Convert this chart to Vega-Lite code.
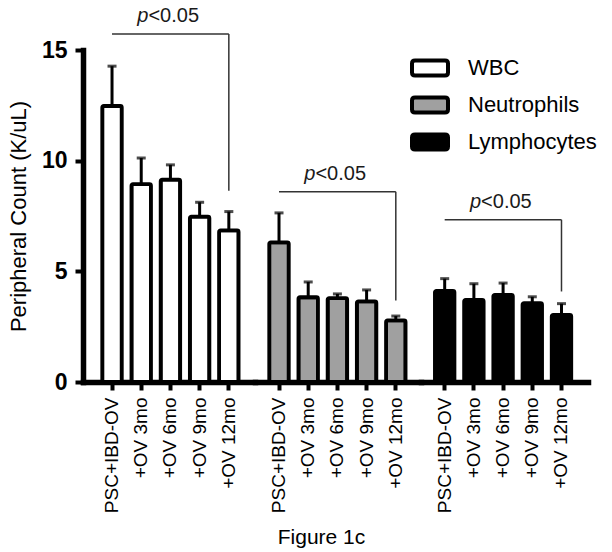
{
  "$schema": "https://vega.github.io/schema/vega-lite/v6.json",
  "background": "white",
  "padding": {"left": 7, "top": 6, "right": 5, "bottom": 5},
  "bounds": "flush",
  "spacing": 0,
  "datasets": {
    "bars": [
      {"type": "WBC", "time": "PSC+IBD-OV", "mean": 12.47, "upper": 14.27},
      {"type": "WBC", "time": "+OV 3mo", "mean": 8.94, "upper": 10.12},
      {"type": "WBC", "time": "+OV 6mo", "mean": 9.14, "upper": 9.81},
      {"type": "WBC", "time": "+OV 9mo", "mean": 7.47, "upper": 8.12},
      {"type": "WBC", "time": "+OV 12mo", "mean": 6.85, "upper": 7.7},
      {"type": "Neutrophils", "time": "PSC+IBD-OV", "mean": 6.31, "upper": 7.64},
      {"type": "Neutrophils", "time": "+OV 3mo", "mean": 3.83, "upper": 4.52},
      {"type": "Neutrophils", "time": "+OV 6mo", "mean": 3.79, "upper": 3.98},
      {"type": "Neutrophils", "time": "+OV 9mo", "mean": 3.64, "upper": 4.16},
      {"type": "Neutrophils", "time": "+OV 12mo", "mean": 2.78, "upper": 2.98},
      {"type": "Lymphocytes", "time": "PSC+IBD-OV", "mean": 4.12, "upper": 4.67},
      {"type": "Lymphocytes", "time": "+OV 3mo", "mean": 3.71, "upper": 4.44},
      {"type": "Lymphocytes", "time": "+OV 6mo", "mean": 3.94, "upper": 4.47},
      {"type": "Lymphocytes", "time": "+OV 9mo", "mean": 3.56, "upper": 3.85},
      {"type": "Lymphocytes", "time": "+OV 12mo", "mean": 3.03, "upper": 3.54}
    ],
    "brackets": [
      {"type": "WBC", "from": "PSC+IBD-OV", "to": "+OV 12mo", "mid": "+OV 6mo", "level": 15.72, "drop": 8.64, "pfx": "p", "rest": "<0.05"},
      {"type": "Neutrophils", "from": "PSC+IBD-OV", "to": "+OV 12mo", "mid": "+OV 6mo", "level": 8.6, "drop": 3.68, "pfx": "p", "rest": "<0.05"},
      {"type": "Lymphocytes", "from": "PSC+IBD-OV", "to": "+OV 12mo", "mid": "+OV 6mo", "level": 7.33, "drop": 4.09, "pfx": "p", "rest": "<0.05"}
    ]
  },
  "resolve": {"scale": {"x": "independent", "y": "independent"}, "axis": {"x": "independent", "y": "independent"}},
  "hconcat": [
    {
      "width": 172, "height": 332,
      "layer": [
        {"data": {"name": "bars"}, "transform": [{"filter": "datum.type === 'WBC'"}],
         "mark": {"type": "rule", "color": "black", "strokeWidth": 3},
         "encoding": {
           "x": {"field": "time", "type": "nominal", "title": null, "scale": {"domain": ["PSC+IBD-OV", "+OV 3mo", "+OV 6mo", "+OV 9mo", "+OV 12mo"], "paddingInner": 0.332, "paddingOuter": 0.611, "align": 0.54}, "axis": {"title": null}},
           "y": {"field": "mean", "type": "quantitative", "scale": {"domain": [0, 15], "nice": false}, "axis": {"values": [0, 5, 10, 15], "title": "Peripheral Count (K/uL)"}},
           "y2": {"field": "upper"}
         }},
        {"data": {"name": "bars"}, "transform": [{"filter": "datum.type === 'WBC'"}],
         "mark": {"type": "tick", "color": "black", "thickness": 3, "size": 9},
         "encoding": {
           "x": {"field": "time", "type": "nominal", "title": null, "scale": {"domain": ["PSC+IBD-OV", "+OV 3mo", "+OV 6mo", "+OV 9mo", "+OV 12mo"], "paddingInner": 0.332, "paddingOuter": 0.611, "align": 0.54}, "axis": {"title": null}},
           "y": {"field": "upper", "type": "quantitative", "scale": {"domain": [0, 15], "nice": false}, "axis": {"values": [0, 5, 10, 15], "title": "Peripheral Count (K/uL)"}}
         }},
        {"data": {"name": "bars"}, "transform": [{"filter": "datum.type === 'WBC'"}],
         "mark": {"type": "bar", "stroke": "black", "strokeWidth": 3.8, "cornerRadius": 1.5, "strokeJoin": "round"},
         "encoding": {
           "x": {"field": "time", "type": "nominal", "title": null, "scale": {"domain": ["PSC+IBD-OV", "+OV 3mo", "+OV 6mo", "+OV 9mo", "+OV 12mo"], "paddingInner": 0.332, "paddingOuter": 0.611, "align": 0.54}, "axis": {"title": null}},
           "y": {"field": "mean", "type": "quantitative", "scale": {"domain": [0, 15], "nice": false}, "axis": {"values": [0, 5, 10, 15], "title": "Peripheral Count (K/uL)"}},
           "fill": {"field": "type", "type": "nominal", "scale": {"domain": ["WBC", "Neutrophils", "Lymphocytes"], "range": ["#ffffff", "#a0a0a0", "#000000"]}, "legend": {"title": null}}
         }},
        {"data": {"name": "brackets"}, "transform": [{"filter": "datum.type === 'WBC'"}],
         "mark": {"type": "rule", "color": "#333333", "strokeWidth": 1.5},
         "encoding": {
           "x": {"field": "from", "type": "nominal", "title": null, "scale": {"domain": ["PSC+IBD-OV", "+OV 3mo", "+OV 6mo", "+OV 9mo", "+OV 12mo"], "paddingInner": 0.332, "paddingOuter": 0.611, "align": 0.54}, "axis": {"title": null}},
           "x2": {"field": "to"},
           "y": {"field": "level", "type": "quantitative", "scale": {"domain": [0, 15], "nice": false}, "axis": {"values": [0, 5, 10, 15], "title": "Peripheral Count (K/uL)"}}
         }},
        {"data": {"name": "brackets"}, "transform": [{"filter": "datum.type === 'WBC'"}],
         "mark": {"type": "rule", "color": "#333333", "strokeWidth": 1.5},
         "encoding": {
           "x": {"field": "to", "type": "nominal", "title": null, "scale": {"domain": ["PSC+IBD-OV", "+OV 3mo", "+OV 6mo", "+OV 9mo", "+OV 12mo"], "paddingInner": 0.332, "paddingOuter": 0.611, "align": 0.54}, "axis": {"title": null}},
           "y": {"field": "level", "type": "quantitative", "scale": {"domain": [0, 15], "nice": false}, "axis": {"values": [0, 5, 10, 15], "title": "Peripheral Count (K/uL)"}},
           "y2": {"field": "drop"}
         }},
        {"data": {"name": "brackets"}, "transform": [{"filter": "datum.type === 'WBC'"}],
         "mark": {"type": "text", "align": "right", "baseline": "alphabetic", "dx": -22, "dy": -12, "fontSize": 20, "fontStyle": "italic", "color": "#1a1a1a"},
         "encoding": {
           "x": {"field": "mid", "type": "nominal", "title": null, "scale": {"domain": ["PSC+IBD-OV", "+OV 3mo", "+OV 6mo", "+OV 9mo", "+OV 12mo"], "paddingInner": 0.332, "paddingOuter": 0.611, "align": 0.54}, "axis": {"title": null}},
           "y": {"field": "level", "type": "quantitative", "scale": {"domain": [0, 15], "nice": false}, "axis": {"values": [0, 5, 10, 15], "title": "Peripheral Count (K/uL)"}},
           "text": {"field": "pfx"}
         }},
        {"data": {"name": "brackets"}, "transform": [{"filter": "datum.type === 'WBC'"}],
         "mark": {"type": "text", "align": "left", "baseline": "alphabetic", "dx": -22, "dy": -12, "fontSize": 20, "color": "#1a1a1a"},
         "encoding": {
           "x": {"field": "mid", "type": "nominal", "title": null, "scale": {"domain": ["PSC+IBD-OV", "+OV 3mo", "+OV 6mo", "+OV 9mo", "+OV 12mo"], "paddingInner": 0.332, "paddingOuter": 0.611, "align": 0.54}, "axis": {"title": null}},
           "y": {"field": "level", "type": "quantitative", "scale": {"domain": [0, 15], "nice": false}, "axis": {"values": [0, 5, 10, 15], "title": "Peripheral Count (K/uL)"}},
           "text": {"field": "rest"}
         }}
      ]
    },
    {
      "width": 166, "height": 332,
      "layer": [
        {"data": {"name": "bars"}, "transform": [{"filter": "datum.type === 'Neutrophils'"}],
         "mark": {"type": "rule", "color": "black", "strokeWidth": 3},
         "encoding": {
           "x": {"field": "time", "type": "nominal", "title": null, "scale": {"domain": ["PSC+IBD-OV", "+OV 3mo", "+OV 6mo", "+OV 9mo", "+OV 12mo"], "paddingInner": 0.332, "paddingOuter": 0.5085, "align": 0.48}, "axis": {"title": "Figure 1c", "titleX": 66}},
           "y": {"field": "mean", "type": "quantitative", "scale": {"domain": [0, 15], "nice": false}, "axis": null},
           "y2": {"field": "upper"}
         }},
        {"data": {"name": "bars"}, "transform": [{"filter": "datum.type === 'Neutrophils'"}],
         "mark": {"type": "tick", "color": "black", "thickness": 3, "size": 9},
         "encoding": {
           "x": {"field": "time", "type": "nominal", "title": null, "scale": {"domain": ["PSC+IBD-OV", "+OV 3mo", "+OV 6mo", "+OV 9mo", "+OV 12mo"], "paddingInner": 0.332, "paddingOuter": 0.5085, "align": 0.48}, "axis": {"title": "Figure 1c", "titleX": 66}},
           "y": {"field": "upper", "type": "quantitative", "scale": {"domain": [0, 15], "nice": false}, "axis": null}
         }},
        {"data": {"name": "bars"}, "transform": [{"filter": "datum.type === 'Neutrophils'"}],
         "mark": {"type": "bar", "stroke": "black", "strokeWidth": 3.8, "cornerRadius": 1.5, "strokeJoin": "round"},
         "encoding": {
           "x": {"field": "time", "type": "nominal", "title": null, "scale": {"domain": ["PSC+IBD-OV", "+OV 3mo", "+OV 6mo", "+OV 9mo", "+OV 12mo"], "paddingInner": 0.332, "paddingOuter": 0.5085, "align": 0.48}, "axis": {"title": "Figure 1c", "titleX": 66}},
           "y": {"field": "mean", "type": "quantitative", "scale": {"domain": [0, 15], "nice": false}, "axis": null},
           "fill": {"field": "type", "type": "nominal", "scale": {"domain": ["WBC", "Neutrophils", "Lymphocytes"], "range": ["#ffffff", "#a0a0a0", "#000000"]}, "legend": {"title": null}}
         }},
        {"data": {"name": "brackets"}, "transform": [{"filter": "datum.type === 'Neutrophils'"}],
         "mark": {"type": "rule", "color": "#333333", "strokeWidth": 1.5},
         "encoding": {
           "x": {"field": "from", "type": "nominal", "title": null, "scale": {"domain": ["PSC+IBD-OV", "+OV 3mo", "+OV 6mo", "+OV 9mo", "+OV 12mo"], "paddingInner": 0.332, "paddingOuter": 0.5085, "align": 0.48}, "axis": {"title": "Figure 1c", "titleX": 66}},
           "x2": {"field": "to"},
           "y": {"field": "level", "type": "quantitative", "scale": {"domain": [0, 15], "nice": false}, "axis": null}
         }},
        {"data": {"name": "brackets"}, "transform": [{"filter": "datum.type === 'Neutrophils'"}],
         "mark": {"type": "rule", "color": "#333333", "strokeWidth": 1.5},
         "encoding": {
           "x": {"field": "to", "type": "nominal", "title": null, "scale": {"domain": ["PSC+IBD-OV", "+OV 3mo", "+OV 6mo", "+OV 9mo", "+OV 12mo"], "paddingInner": 0.332, "paddingOuter": 0.5085, "align": 0.48}, "axis": {"title": "Figure 1c", "titleX": 66}},
           "y": {"field": "level", "type": "quantitative", "scale": {"domain": [0, 15], "nice": false}, "axis": null},
           "y2": {"field": "drop"}
         }},
        {"data": {"name": "brackets"}, "transform": [{"filter": "datum.type === 'Neutrophils'"}],
         "mark": {"type": "text", "align": "right", "baseline": "alphabetic", "dx": -22, "dy": -12, "fontSize": 20, "fontStyle": "italic", "color": "#1a1a1a"},
         "encoding": {
           "x": {"field": "mid", "type": "nominal", "title": null, "scale": {"domain": ["PSC+IBD-OV", "+OV 3mo", "+OV 6mo", "+OV 9mo", "+OV 12mo"], "paddingInner": 0.332, "paddingOuter": 0.5085, "align": 0.48}, "axis": {"title": "Figure 1c", "titleX": 66}},
           "y": {"field": "level", "type": "quantitative", "scale": {"domain": [0, 15], "nice": false}, "axis": null},
           "text": {"field": "pfx"}
         }},
        {"data": {"name": "brackets"}, "transform": [{"filter": "datum.type === 'Neutrophils'"}],
         "mark": {"type": "text", "align": "left", "baseline": "alphabetic", "dx": -22, "dy": -12, "fontSize": 20, "color": "#1a1a1a"},
         "encoding": {
           "x": {"field": "mid", "type": "nominal", "title": null, "scale": {"domain": ["PSC+IBD-OV", "+OV 3mo", "+OV 6mo", "+OV 9mo", "+OV 12mo"], "paddingInner": 0.332, "paddingOuter": 0.5085, "align": 0.48}, "axis": {"title": "Figure 1c", "titleX": 66}},
           "y": {"field": "level", "type": "quantitative", "scale": {"domain": [0, 15], "nice": false}, "axis": null},
           "text": {"field": "rest"}
         }}
      ]
    },
    {
      "width": 167, "height": 332,
      "layer": [
        {"data": {"name": "bars"}, "transform": [{"filter": "datum.type === 'Lymphocytes'"}],
         "mark": {"type": "rule", "color": "black", "strokeWidth": 3},
         "encoding": {
           "x": {"field": "time", "type": "nominal", "title": null, "scale": {"domain": ["PSC+IBD-OV", "+OV 3mo", "+OV 6mo", "+OV 9mo", "+OV 12mo"], "paddingInner": 0.332, "paddingOuter": 0.5255, "align": 0.454}, "axis": {"title": null}},
           "y": {"field": "mean", "type": "quantitative", "scale": {"domain": [0, 15], "nice": false}, "axis": null},
           "y2": {"field": "upper"}
         }},
        {"data": {"name": "bars"}, "transform": [{"filter": "datum.type === 'Lymphocytes'"}],
         "mark": {"type": "tick", "color": "black", "thickness": 3, "size": 9},
         "encoding": {
           "x": {"field": "time", "type": "nominal", "title": null, "scale": {"domain": ["PSC+IBD-OV", "+OV 3mo", "+OV 6mo", "+OV 9mo", "+OV 12mo"], "paddingInner": 0.332, "paddingOuter": 0.5255, "align": 0.454}, "axis": {"title": null}},
           "y": {"field": "upper", "type": "quantitative", "scale": {"domain": [0, 15], "nice": false}, "axis": null}
         }},
        {"data": {"name": "bars"}, "transform": [{"filter": "datum.type === 'Lymphocytes'"}],
         "mark": {"type": "bar", "stroke": "black", "strokeWidth": 3.8, "cornerRadius": 1.5, "strokeJoin": "round"},
         "encoding": {
           "x": {"field": "time", "type": "nominal", "title": null, "scale": {"domain": ["PSC+IBD-OV", "+OV 3mo", "+OV 6mo", "+OV 9mo", "+OV 12mo"], "paddingInner": 0.332, "paddingOuter": 0.5255, "align": 0.454}, "axis": {"title": null}},
           "y": {"field": "mean", "type": "quantitative", "scale": {"domain": [0, 15], "nice": false}, "axis": null},
           "fill": {"field": "type", "type": "nominal", "scale": {"domain": ["WBC", "Neutrophils", "Lymphocytes"], "range": ["#ffffff", "#a0a0a0", "#000000"]}, "legend": {"title": null}}
         }},
        {"data": {"name": "brackets"}, "transform": [{"filter": "datum.type === 'Lymphocytes'"}],
         "mark": {"type": "rule", "color": "#333333", "strokeWidth": 1.5},
         "encoding": {
           "x": {"field": "from", "type": "nominal", "title": null, "scale": {"domain": ["PSC+IBD-OV", "+OV 3mo", "+OV 6mo", "+OV 9mo", "+OV 12mo"], "paddingInner": 0.332, "paddingOuter": 0.5255, "align": 0.454}, "axis": {"title": null}},
           "x2": {"field": "to"},
           "y": {"field": "level", "type": "quantitative", "scale": {"domain": [0, 15], "nice": false}, "axis": null}
         }},
        {"data": {"name": "brackets"}, "transform": [{"filter": "datum.type === 'Lymphocytes'"}],
         "mark": {"type": "rule", "color": "#333333", "strokeWidth": 1.5},
         "encoding": {
           "x": {"field": "to", "type": "nominal", "title": null, "scale": {"domain": ["PSC+IBD-OV", "+OV 3mo", "+OV 6mo", "+OV 9mo", "+OV 12mo"], "paddingInner": 0.332, "paddingOuter": 0.5255, "align": 0.454}, "axis": {"title": null}},
           "y": {"field": "level", "type": "quantitative", "scale": {"domain": [0, 15], "nice": false}, "axis": null},
           "y2": {"field": "drop"}
         }},
        {"data": {"name": "brackets"}, "transform": [{"filter": "datum.type === 'Lymphocytes'"}],
         "mark": {"type": "text", "align": "right", "baseline": "alphabetic", "dx": -22, "dy": -12, "fontSize": 20, "fontStyle": "italic", "color": "#1a1a1a"},
         "encoding": {
           "x": {"field": "mid", "type": "nominal", "title": null, "scale": {"domain": ["PSC+IBD-OV", "+OV 3mo", "+OV 6mo", "+OV 9mo", "+OV 12mo"], "paddingInner": 0.332, "paddingOuter": 0.5255, "align": 0.454}, "axis": {"title": null}},
           "y": {"field": "level", "type": "quantitative", "scale": {"domain": [0, 15], "nice": false}, "axis": null},
           "text": {"field": "pfx"}
         }},
        {"data": {"name": "brackets"}, "transform": [{"filter": "datum.type === 'Lymphocytes'"}],
         "mark": {"type": "text", "align": "left", "baseline": "alphabetic", "dx": -22, "dy": -12, "fontSize": 20, "color": "#1a1a1a"},
         "encoding": {
           "x": {"field": "mid", "type": "nominal", "title": null, "scale": {"domain": ["PSC+IBD-OV", "+OV 3mo", "+OV 6mo", "+OV 9mo", "+OV 12mo"], "paddingInner": 0.332, "paddingOuter": 0.5255, "align": 0.454}, "axis": {"title": null}},
           "y": {"field": "level", "type": "quantitative", "scale": {"domain": [0, 15], "nice": false}, "axis": null},
           "text": {"field": "rest"}
         }}
      ]
    }
  ],
  "config": {
    "font": "Liberation Sans",
    "view": {"stroke": null},
    "axis": {"domainColor": "black", "tickColor": "black", "labelColor": "black", "titleColor": "black", "grid": false, "labelFont": "Liberation Sans", "titleFont": "Liberation Sans", "titleFontWeight": "normal", "domainCap": "square"},
    "axisX": {"domainWidth": 5.5, "tickWidth": 4, "tickSize": 8, "labelAngle": 270, "labelFontSize": 19, "labelPadding": 7, "titleFontSize": 21, "titlePadding": 14},
    "axisY": {"domainWidth": 5.5, "tickWidth": 4, "tickSize": 8, "labelFontSize": 23, "labelFontWeight": "bold", "labelPadding": 8, "titleFontSize": 22, "titlePadding": 11},
    "legend": {
      "orient": "none", "legendX": 330, "legendY": 1, "padding": 0,
      "symbolType": "M-1.0,-0.5 L1.0,-0.5 Q1.2,-0.5 1.2,-0.3 L1.2,0.3 Q1.2,0.5 1.0,0.5 L-1.0,0.5 Q-1.2,0.5 -1.2,0.3 L-1.2,-0.3 Q-1.2,-0.5 -1.0,-0.5 Z",
      "symbolSize": 900, "symbolStrokeColor": "black", "symbolStrokeWidth": 4, "symbolOpacity": 1,
      "labelFontSize": 22, "labelFont": "Liberation Sans", "labelColor": "black", "labelOffset": 21, "rowPadding": 4, "labelLimit": 300
    }
  }
}
